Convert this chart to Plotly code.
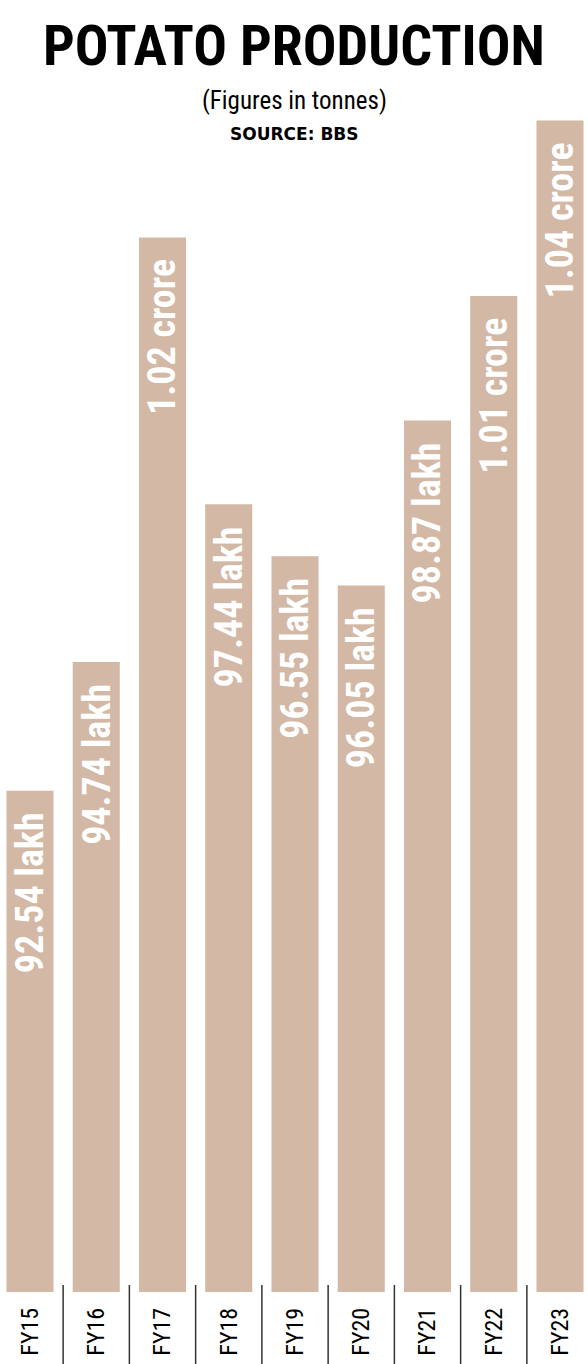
import plotly.graph_objects as go

years = ["FY15", "FY16", "FY17", "FY18", "FY19", "FY20", "FY21", "FY22", "FY23"]
production_lakh = [92.54, 94.74, 102.0, 97.44, 96.55, 96.05, 98.87, 101.0, 104.0]
labels = ["92.54 lakh", "94.74 lakh", "1.02 crore", "97.44 lakh", "96.55 lakh",
          "96.05 lakh", "98.87 lakh", "1.01 crore", "1.04 crore"]

NARROW = "Roboto Condensed, Liberation Sans Narrow, Roboto, sans-serif"
BAR = "#d2b8a5"
W, H = 588, 1364
B = 72
PH = H - B

fig = go.Figure()
fig.add_trace(go.Bar(
    x=years, y=production_lakh, marker=dict(color=BAR, line=dict(width=0)),
    width=0.71, hoverinfo="skip",
))

for i, (yr, v, lab) in enumerate(zip(years, production_lakh, labels)):
    fig.add_annotation(
        x=yr, y=v, xref="x", yref="y", text=lab, showarrow=False,
        textangle=-90, yanchor="top", xanchor="center", yshift=-20,
        font=dict(family=NARROW, size=38, color="white", weight="bold"),
    )

for i in range(len(years) - 1):
    fig.add_shape(type="line", xref="x", yref="paper",
                  x0=i + 0.5, x1=i + 0.5, y0=7 / PH, y1=-B / PH,
                  line=dict(color="#333333", width=1.5))

def py(px):
    return 1 - px / PH

fig.add_annotation(x=0.5, y=py(46), xref="paper", yref="paper", text="<b>POTATO PRODUCTION</b>",
                   showarrow=False, yanchor="middle",
                   font=dict(family=NARROW, size=56, color="black"))
fig.add_annotation(x=0.5, y=py(100), xref="paper", yref="paper", text="(Figures in tonnes)",
                   showarrow=False, yanchor="middle",
                   font=dict(family=NARROW, size=25, color="black"))
fig.add_annotation(x=0.5, y=py(134), xref="paper", yref="paper", text="<b>SOURCE: BBS</b>",
                   showarrow=False, yanchor="middle",
                   font=dict(family="DejaVu Sans, Verdana, sans-serif", size=17, color="black"))

fig.update_layout(
    width=W, height=H, margin=dict(l=0, r=0, t=0, b=B),
    paper_bgcolor="white", plot_bgcolor="white", showlegend=False,
    xaxis=dict(type="category", range=[-30 / 66.25, (W - 30) / 66.25], tickangle=-90,
               showgrid=False, showline=False, zeroline=False, ticks="",
               ticklabelstandoff=10, automargin=False,
               tickfont=dict(family=NARROW, size=24, color="black")),
    yaxis=dict(range=[83.97, 106.06], visible=False, showgrid=False, zeroline=False),
)

fig.write_html("out.html", config={"displayModeBar": False},
               post_script="document.body.style.margin='0';")
